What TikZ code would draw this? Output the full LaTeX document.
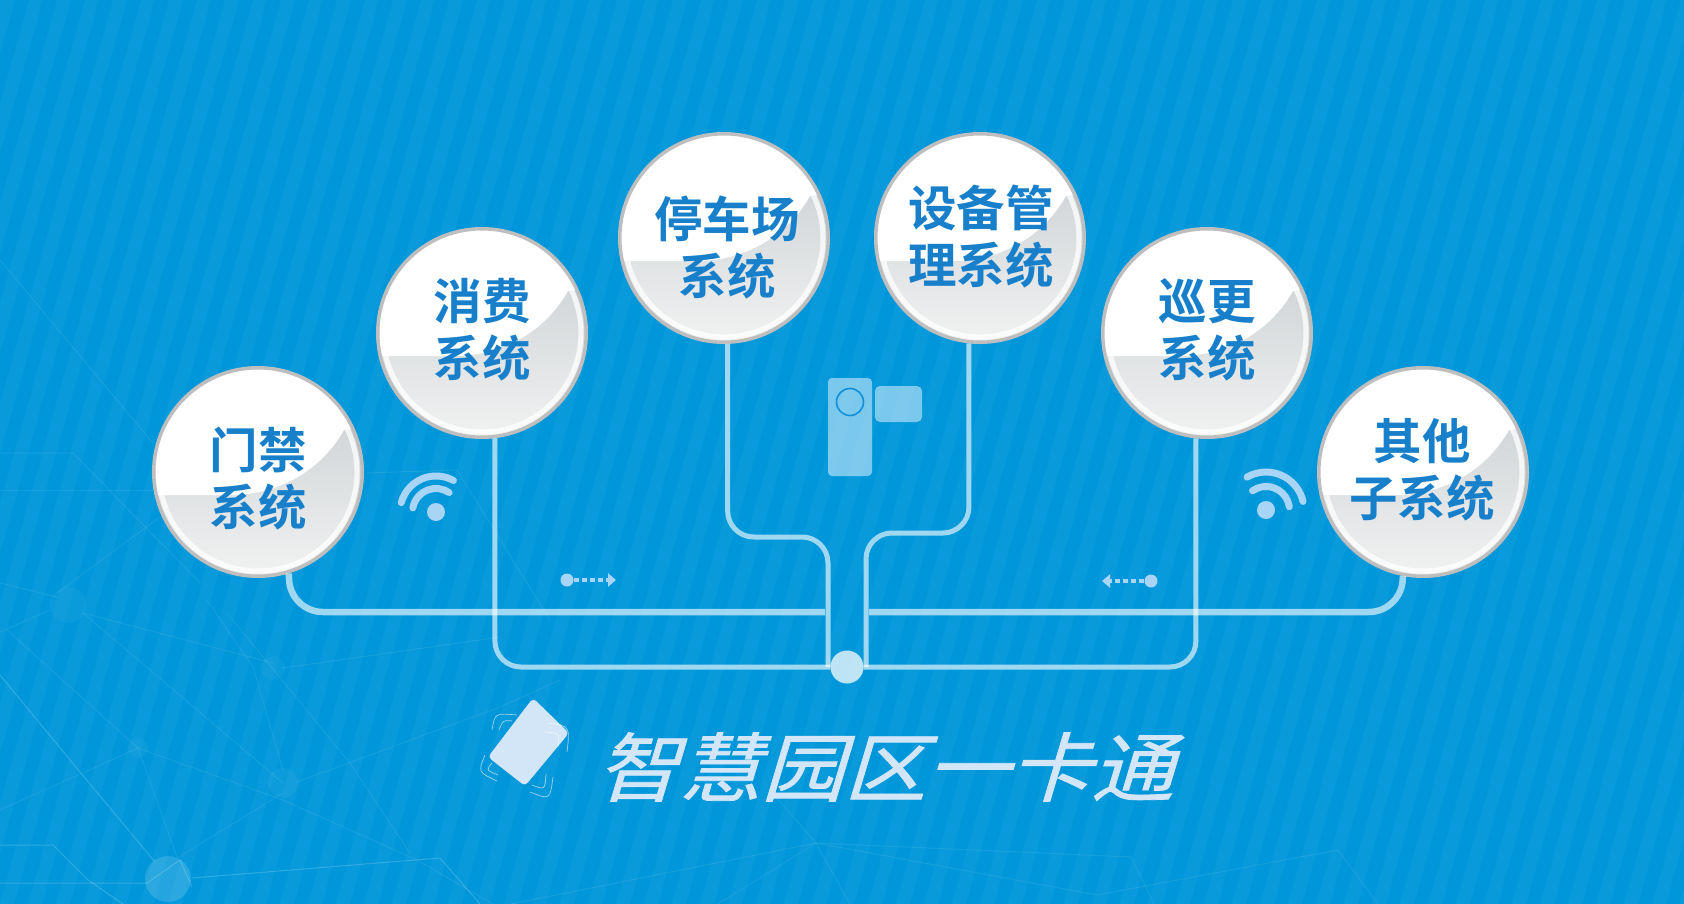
\documentclass[tikz,border=0pt]{standalone}
\usepackage{fontspec}
\usepackage{xcolor}
\usepackage{tikz}
\usetikzlibrary{calc,arrows.meta}
\newfontfamily\cjkfont{Noto Sans CJK SC}[BoldFont={Noto Sans CJK SC Bold}]
\newfontfamily\titlefont{Noto Sans CJK SC}[FakeSlant=0.3,FakeStretch=1.1,FakeBold=1]
\definecolor{skyblue}{HTML}{0097DA}
\definecolor{wordblue}{HTML}{1880CB}
\definecolor{paleblue}{HTML}{A8D5F5}
\definecolor{cardblue}{HTML}{D2E6F8}
\definecolor{rimgray}{HTML}{BEBEBE}
\definecolor{ballhi}{HTML}{C6CBCE}
\definecolor{ballmid}{HTML}{D2D6D9}
\definecolor{balllow}{HTML}{F1F2F2}
\definecolor{lensblue}{HTML}{1090D8}
\tikzset{ball/.style={circle, minimum size=208.5pt, inner sep=0pt, draw=rimgray, line width=3.5pt,
  path picture={
    \shade[top color=ballhi, middle color=ballmid, bottom color=balllow] (path picture bounding box.south west) rectangle (path picture bounding box.north east);
    \fill[white, shift={(path picture bounding box.center)}] (-110,23) -- (-25,23) .. controls (20,22) and (62,0) .. (86,-42) -- (110,-45) -- (110,-110) -- (-110,-110) -- cycle;
    \draw[white, opacity=.75, line width=5pt, shift={(path picture bounding box.center)}] (0,0) circle (99);
  }},
  balltext/.style={align=center, text=wordblue, font=\cjkfont\bfseries\fontsize{48.5}{57}\selectfont, inner sep=0pt},
  link/.style={draw=white, opacity=.62, line width=5pt, rounded corners=26pt},
  busline/.style={draw=white, opacity=.62, line width=6.5pt, rounded corners=34pt},
  wave/.style={draw=paleblue, line width=7pt, line cap=round},
  flow/.style={draw=paleblue, line width=3.5pt, dash pattern=on 5pt off 3pt, -{Triangle[length=8pt,width=13pt]}},
  pale/.style={circle, fill=paleblue, inner sep=0pt},
  net/.style={draw=white, opacity=.08, line width=1pt},
  netbright/.style={draw=white, opacity=.18, line width=1pt},
  bracket/.style={draw=white, opacity=.6, line width=.7pt},
}

\begin{document}
\begin{tikzpicture}[x=1pt,y=-1pt]
    \useasboundingbox (0,0) rectangle (1684,904);
    \fill[skyblue] (0,0) rectangle (1684,904);
    \foreach \i in {-10,...,60}
        \fill[white, opacity=.03] (\i*28,904) -- ++(14,0) -- ++(253,-904) -- ++(-14,0) -- cycle;

    % faint network at the back
    \fill[white, opacity=.04] (68,605) circle (18);
    \fill[white, opacity=.04] (273,668) circle (12);
    \fill[white, opacity=.04] (138,748) circle (10);
    \fill[white, opacity=.05] (283,783) circle (15);
    \fill[white, opacity=.14] (168,879) circle (23);
    \draw[net] (0,260) -- (153,443);
    \draw[net] (0,453) -- (73,453) -- (200,583);
    \draw[net] (0,490) -- (153,490);
    \draw[net] (57,593) -- (160,517);
    \draw[net] (0,583) -- (57,597);
    \draw[net] (0,632) -- (50,610);
    \draw[net] (83,613) -- (273,663);
    \draw[net] (7,630) -- (138,748) -- (177,857);
    \draw[net] (0,810) -- (138,748) -- (283,800) -- (417,860) -- (493,904);
    \draw[net] (83,613) -- (283,783);
    \draw[net] (207,600) -- (253,667) -- (283,770);
    \draw[net] (227,613) -- (350,763) -- (410,853);
    \draw[net] (283,668) -- (500,637);
    \draw[net] (297,782) -- (500,707) -- (560,680);
    \draw[net] (177,858) -- (283,793);
    \draw[net] (367,473) -- (457,470) -- (550,620);
    \draw[net] (816,843) -- (1131,857) -- (1154,904);
    \draw[net] (816,843) -- (1097,895) -- (1338,850) -- (1378,904);
    \draw[net] (816,843) -- (511,904);
    \draw[net] (816,843) -- (718,904);
    \draw[net] (816,843) -- (850,904);
    \draw[net] (816,843) -- (770,790);
    \draw[netbright] (0,675) -- (80,772) -- (155,862);
    \draw[netbright] (0,845) -- (53,845) -- (88,880) -- (123,904);
    \draw[netbright] (0,883) -- (147,883) -- (180,860) -- (192,887);
    \draw[netbright] (192,878) -- (440,858) -- (480,904);

    \node[ball] (menjin) at (258,472) {};
    \node[ball] (xiaofei) at (482,333) {};
    \node[ball] (tingche) at (724,238) {};
    \node[ball] (shebei) at (980,238) {};
    \node[ball] (xungeng) at (1207,333) {};
    \node[ball] (qita) at (1423,472) {};
    \node[balltext] (menjintext) at (258,479) {门禁\\系统};
    \node[balltext] (xiaofeitext) at (482,330) {消费\\系统};
    \node[balltext] (tingchetext) at (727,247) {停车场\\系统};
    \node[balltext] (shebeitext) at (981,237) {设备管\\理系统};
    \node[balltext] (xungengtext) at (1207,330) {巡更\\系统};
    \node[balltext] (qitatext) at (1422,470) {其他\\子系统};

    \node[circle, fill=white, opacity=.74, minimum size=33pt, inner sep=0pt] (hub) at (847,667) {};
    \coordinate (busL) at (825,612);
    \coordinate (busR) at (869,612);
    \coordinate (riserL) at (828,537);
    \coordinate (riserR) at (866,533);
    \coordinate (footL) at (828,667);
    \coordinate (footR) at (866,667);
    \draw[busline] (menjin.-73.4) |- (busL);
    \draw[busline] (qita.-101.5) |- (busR);
    \draw[link] (xiaofei.-83) |- (hub.west);
    \draw[link] (xungeng.-96.6) |- (hub.east);
    \draw[link] (tingche.-88) |- (riserL) -- (footL);
    \draw[link] (shebei.-96.5) |- (riserR) -- (footR);

    % wifi signs
    \node[pale, minimum size=18pt] (wifiL) at (436,512) {};
    \draw[wave] (wifiL) ++(-165:36) arc[start angle=-165, end angle=-61, radius=36];
    \draw[wave] (wifiL) ++(-170:23.5) arc[start angle=-170, end angle=-56, radius=23.5];
    \node[pale, minimum size=18pt] (wifiR) at (1266,510) {};
    \draw[wave] (wifiR) ++(-120:38) arc[start angle=-120, end angle=-13, radius=38];
    \draw[wave] (wifiR) ++(-125:23.5) arc[start angle=-125, end angle=-8, radius=23.5];

    \node[pale, minimum size=13pt] (flowL) at (567,580) {};
    \coordinate (flowLtip) at (616,580);
    \draw[flow] (flowL) -- (flowLtip);
    \node[pale, minimum size=13pt] (flowR) at (1151,581) {};
    \coordinate (flowRtip) at (1102,581);
    \draw[flow] (flowR) -- (flowRtip);

    % camera
    \fill[white, opacity=.48, rounded corners=4pt] (828,378) rectangle (872,476);
    \fill[white, opacity=.48, rounded corners=5pt] (875,386) rectangle (922,422);
    \draw[lensblue, line width=1.6pt] (850,402) circle (13.5);

    % card
    \fill[cardblue, rounded corners=4pt] (533,698) -- (569,733) -- (525,786) -- (488,757) -- cycle;
    \draw[bracket] (492,730) .. controls (495,713) .. (517,715);
    \draw[bracket] (499,730) .. controls (503,720) .. (512,721);
    \draw[bracket] (485,755) .. controls (478,772) .. (497,781);
    \draw[bracket] (492,763) .. controls (486,770) .. (498,775);
    \draw[bracket] (530,792) .. controls (550,800) .. (553,777);
    \draw[bracket] (532,785) .. controls (545,790) .. (546,774);
    \draw[bracket] (548,723) .. controls (570,726) .. (567,752);
    \draw[bracket] (545,732) .. controls (560,733) .. (558,747);

    \node[text=cardblue, font=\titlefont\fontsize{75}{75}\selectfont, inner sep=0pt] (title) at (885,767) {智慧园区一卡通};
\end{tikzpicture}
\end{document}
